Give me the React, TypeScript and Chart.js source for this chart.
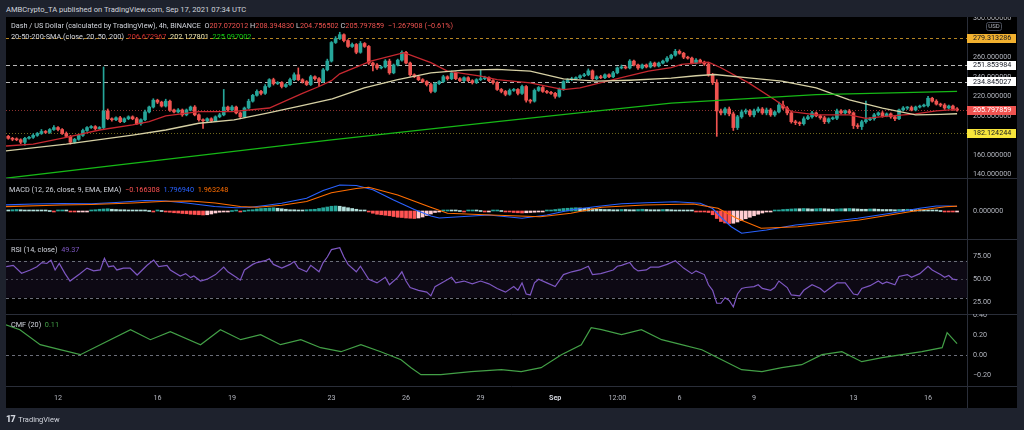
import React, { useEffect, useRef } from "react";
import { Chart, registerables } from "chart.js";

Chart.register(...registerables);

// ---------------- DATA ----------------
const FIRST_OPEN = 179;

// 4h closes, Aug 10 00:00 .. Sep 17 04:00
const closes = [
  177, 176, 175.5, 173, 177, 178, 180, 182, 184, 183,
  186, 188, 186, 182, 179, 173, 176, 180, 185, 188,
  189, 187, 188, 205, 197, 196, 198, 194, 197, 199,
  197, 192, 196, 204, 209, 216, 214, 210, 215, 206,
  204, 206, 201, 206, 209, 201, 196, 195, 197, 195,
  199, 201, 209, 206, 209, 203, 199, 208, 215, 221,
  225, 223, 230, 237, 233, 234, 230, 232, 237, 242,
  237, 235, 232, 240, 238, 235, 247, 256, 275, 279,
  283, 277, 271, 273, 265, 274, 271, 254, 252, 249,
  250, 256, 244, 252, 257, 265, 254, 242, 240, 237,
  235, 232, 225, 233, 235, 240, 238, 244, 238, 236,
  239, 236, 234, 237, 238, 239, 236, 234, 227, 225,
  222, 226, 227, 223, 230, 216, 215, 226, 229, 225,
  224, 223, 220, 227, 235, 237, 238, 239, 241, 242,
  246, 238, 240, 239, 242, 240, 244, 249, 250, 249,
  256, 252, 249, 252, 250, 254, 251, 254, 256, 259,
  262, 266, 264, 260, 259, 254, 257, 255, 253, 242,
  234, 205, 203, 207, 202, 188, 199, 204, 205, 201,
  205, 207, 203, 206, 201, 204, 211, 208, 203, 194,
  193, 192, 197, 199, 203, 200, 198, 194, 197, 197.5,
  205, 203, 205, 203, 190, 189, 194, 196, 197, 201,
  203, 200, 202, 199, 197, 206, 208, 208.5, 206, 209,
  210, 210.5, 218, 215, 212, 211, 208, 210, 207.072012, 205.797859,
];

const wickUp = [
  1, 1, 1.5, 1, 1, 1, 1.5, 1, 2, 1,
  1, 2, 1, 1, 1.5, 1, 1, 1, 1.5, 1,
  1, 1, 1, 45, 2, 1, 1, 1.5, 1, 1,
  1, 1.5, 1, 2, 1, 1.5, 1, 1, 2, 1,
  1, 1.5, 1, 1, 1, 1.5, 1, 1, 1, 1,
  1, 1.5, 18, 1, 1.5, 1, 1, 1, 2, 1,
  1.5, 1, 2, 1, 1.5, 1, 1, 1, 1.5, 2,
  7, 1, 1, 1.5, 1, 1, 1.5, 2, 1, 2,
  2.5, 1, 1, 1.5, 1, 2, 1, 1, 1, 1.5,
  1, 1.5, 2, 1, 1, 1.5, 1, 1, 1, 1,
  1, 1, 1.5, 1, 1, 1.5, 1, 2, 1, 1,
  1, 1, 1, 1, 9, 1.5, 1, 1, 1, 1,
  1, 1.5, 1, 1, 1.5, 1, 1, 1.5, 1, 1,
  1, 1, 1, 1.5, 1, 1, 1.5, 1, 1, 1.5,
  2, 1, 1, 1.5, 1, 1, 1.5, 1, 2, 1,
  1.5, 1, 1, 1, 1, 1.5, 1, 1, 1, 1.5,
  1, 2, 1.5, 1, 1, 1, 1.5, 1, 1, 1,
  1.5, 3, 2, 1.5, 2, 2, 1.5, 2, 2, 1.5,
  2, 2, 1.5, 2, 1.5, 1, 3, 4, 1.5, 2,
  1.5, 1, 2, 1.5, 1.5, 1, 1, 1.5, 1, 1.5,
  2, 1.5, 1, 1.5, 1, 2, 1.5, 19, 1.5, 1.5,
  1, 1.5, 1, 1, 1.5, 1, 1.5, 1, 1.5, 1,
  1, 1.5, 2, 1, 1.5, 1, 1.5, 1, 1, 1.32,
];

const wickDown = [
  1, 1.5, 1, 1.5, 3, 1, 1, 1, 1, 1,
  1, 1, 1.5, 1, 1, 2, 1, 1, 1, 1,
  1, 1.5, 1, 2, 1, 1.5, 1, 1, 1, 1,
  1, 1, 1.5, 1, 1, 1, 1.5, 1, 1, 1.5,
  1, 1, 1.5, 1, 1, 1, 1.5, 8, 1, 1.5,
  1, 1, 1, 1.5, 1, 1, 2, 1, 1, 1,
  1, 1.5, 1, 1, 1.5, 1, 1.5, 1, 1, 1,
  1, 1.5, 1, 1, 1.5, 5, 1, 1, 1, 1,
  1, 1.5, 1, 1, 1.5, 1, 1, 1.5, 6, 1.5,
  1, 1, 1.5, 1, 1, 1, 1, 1.5, 1, 1,
  1, 1.5, 1.5, 1, 1, 1, 1.5, 1, 1, 1,
  1, 1, 1.5, 1, 1, 1, 1, 1.5, 1, 1.5,
  1.5, 1, 1, 1.5, 1, 2, 2, 1, 1, 1,
  1, 1, 2, 1, 1, 1, 1, 1, 1, 1,
  1, 1.5, 1, 1, 1, 1, 1, 1, 1, 1,
  1, 1, 1.5, 1, 1, 1, 1, 1, 1, 1,
  1, 1, 1, 1.5, 1, 1, 1, 1, 1.5, 1.5,
  2, 26, 2, 2, 2, 3, 2, 1.5, 2, 1.5,
  2, 1.5, 1.5, 2, 1.5, 1.5, 1, 1.5, 2, 1.5,
  2, 2, 1.5, 1, 1.5, 1, 1.5, 2, 1.5, 1,
  1.5, 1, 1.5, 1, 3, 2, 3, 1.5, 1, 1.5,
  1, 1.5, 1, 1.5, 2, 1, 1, 1.5, 1, 1,
  1, 1, 1.5, 1, 1, 1.5, 1.5, 1, 1.5, 1.04,
];

// [candle index, value]
const sma20: [number, number][] = [
  [-1, 169], [6, 171], [14, 178], [22, 185.5], [30, 190.7], [34, 194], [38, 200], [46, 204.4],
  [54, 204.4], [63, 208], [71, 223], [75, 230], [78, 236], [80, 243], [87.5, 256], [95.5, 264.7],
  [102, 254.4], [106, 245.7], [114, 240.6], [118, 237], [126, 233.7], [134, 226.8], [138, 228.5],
  [146, 237], [154.5, 245.7], [160, 249.2], [162.5, 252.6], [169, 255], [172, 249.2], [178.7, 233.7],
  [185, 216.4], [189, 204.4], [195, 201], [203, 201], [207, 197.5], [211, 199.2], [219, 202],
  [224, 205], [229, 206.67],
];
const sma50: [number, number][] = [
  [-1, 164], [14, 171], [30, 180.3], [38, 185.5], [46, 192.4], [54.5, 195.8], [62.5, 202.7],
  [70.6, 210.3], [78.2, 217.3], [85.9, 228.5], [94, 237.1], [102, 244], [110, 246.8], [118, 247.5],
  [126, 245.7], [134, 237.8], [142, 235.4], [150, 236.4], [160, 238.5], [166, 241], [170.5, 242.3],
  [178.7, 238.8], [186.7, 235.4], [195, 228.5], [203, 216.4], [211, 207.8], [219, 201], [225, 201.5],
  [229, 202.13],
];
const sma200: [number, number][] = [
  [-1, 136], [36, 154.5], [78, 175.5], [118, 194], [140, 204], [160, 213], [195, 221.6], [229, 225.1],
];

const macdLine: [number, number][] = [
  [-2, 2.4], [6, 2.8], [13, 3.0], [20, 2.9], [26, 3.4], [33, 4.2], [38, 4.0], [43, 3.2], [49.8, 1.8],
  [55, 1.3], [58, 1.4], [62, 2.2], [66, 3.1], [72, 5.1], [76, 8.2], [80, 10.4], [84, 10.2], [88, 8.5],
  [93, 4.4], [98, 0.6], [102, -2.0], [104, -2.8], [109, -2.3], [116, -1.6], [124, -2.9], [130, -1.6],
  [136, 0.5], [142, 1.8], [148, 2.9], [154, 3.3], [161, 3.7], [167, 3.1], [170, 1.0], [172, -2.5],
  [174.5, -6.3], [177, -8.9], [183, -7.6], [190, -5.6], [198, -4.3], [205, -2.9], [213, -0.9],
  [220, 1.1], [224, 2.0], [227, 2.0], [229, 1.797],
];
const signalLine: [number, number][] = [
  [-2, 1.7], [12.8, 2.4], [20, 2.6], [30, 3.2], [38, 3.9], [44, 4.0], [50, 3.2], [56, 1.8], [60, 1.5],
  [66, 2.3], [72, 3.8], [78, 7.3], [84, 9.0], [87, 9.5], [94, 6.4], [101.6, 1.7], [106, -0.9],
  [116.5, -1.6], [128.4, -2.3], [135.8, -0.9], [143.2, 1.5], [153.6, 2.4], [165.4, 2.8], [171.3, 1.1],
  [175.8, -2.9], [181.7, -6.9], [190.6, -6.3], [205.4, -3.6], [212.8, -1.6], [220.2, 0.4],
  [226.2, 1.7], [229, 1.963],
];
const macdHist = [
  0.4, 0.5, 0.6, 0.5, 0.4, 0.3, 0.3, 0.2, 0.1, 0.1,
  0.0, -0.1, 0.1, 0.2, 0.1, -0.3, -0.4, -0.3, -0.2, -0.1,
  0.3, 0.5, 0.7, 0.8, 0.9, 0.7, 0.6, 0.5, 0.5, 0.4,
  0.4, 0.3, 0.2, 0.1, 0.0, -0.1, 0.1, 0.0, -0.2, -0.5,
  -0.7, -0.8, -1.0, -1.1, -1.3, -1.4, -1.5, -1.6, -1.5, -1.2,
  -0.8, -0.5, -0.2, -0.1, 0.0, 0.1, -0.1, 0.0, 0.2, 0.5,
  0.8, 1.0, 1.1, 1.2, 1.3, 1.1, 0.9, 0.7, 0.5, 0.5,
  0.4, 0.4, 0.5, 0.6, 0.7, 1.0, 1.3, 1.6, 1.9, 2.0,
  1.9, 1.6, 1.3, 1.0, 0.7, 0.4, 0.1, -0.4, -0.9, -1.3,
  -1.5, -1.7, -1.9, -2.2, -2.5, -2.6, -2.8, -2.9, -3.0, -2.8,
  -2.4, -1.8, -1.2, -0.6, -0.2, 0.2, 0.3, 0.2, 0.1, 0.0,
  -0.1, 0.1, 0.2, 0.1, 0.0, -0.2, -0.1, 0.1, 0.2, 0.0,
  -0.2, -0.4, -0.6, -0.7, -0.8, -0.7, -0.6, -0.5, -0.3, -0.1,
  0.1, 0.3, 0.6, 0.8, 1.0, 1.1, 1.2, 1.3, 1.2, 1.1,
  1.0, 0.9, 0.8, 0.7, 0.6, 0.6, 0.5, 0.5, 0.6, 0.6,
  0.5, 0.5, 0.6, 0.7, 0.6, 0.5, 0.5, 0.5, 0.6, 0.6,
  0.5, 0.4, 0.4, 0.3, 0.2, 0.1, -0.1, -0.2, -0.3, -0.6,
  -1.5, -3.0, -4.2, -4.8, -5.0, -4.9, -4.4, -3.8, -3.1, -2.5,
  -1.9, -1.3, -0.8, -0.4, -0.1, 0.2, 0.4, 0.6, 0.7, 0.8,
  0.9, 0.9, 1.0, 0.9, 0.8, 0.9, 1.0, 0.9, 0.8, 0.7,
  0.8, 0.9, 0.9, 1.0, 0.9, 0.8, 0.7, 0.7, 0.8, 0.8,
  0.7, 0.6, 0.6, 0.6, 0.5, 0.6, 0.6, 0.7, 0.6, 0.5,
  0.5, 0.4, 0.3, 0.2, 0.1, 0.0, -0.1, -0.1, -0.2, -0.166308,
];

const rsiLine: [number, number][] = [
  [-0.5, 63.5], [1.2, 65], [3.2, 56.4], [5.3, 60], [6.9, 63.5], [8.1, 68], [9.3, 67], [10.3, 70.6],
  [11.3, 60], [12.3, 67], [13.7, 56], [14.9, 48], [17.3, 56], [19, 62], [20.6, 59], [22.2, 60],
  [23.2, 72.6], [24.2, 63.5], [25.4, 64.5], [26.2, 60], [27.8, 62], [29.4, 62], [31.1, 54.5],
  [33.5, 65], [35.1, 70.6], [36.3, 63.5], [38.3, 65], [39.1, 60], [41.5, 53.5], [42.8, 56],
  [44, 51.7], [44.8, 53.5], [46.4, 48], [48, 50], [50, 55], [52, 63], [53, 58], [55, 52], [56, 49],
  [57, 60], [59, 66], [60, 68], [62, 70], [63, 72], [64, 66], [66, 62], [68, 66], [69, 69], [70, 62],
  [72, 58], [73, 65], [75, 58], [76, 68], [77, 74], [78, 82], [80, 84], [81, 74], [82, 66], [84, 58],
  [85, 64], [87, 50], [89, 46], [91, 52], [92, 44], [94, 52], [95, 58], [96, 48], [97, 41], [99, 38],
  [101, 36], [102, 32], [103, 42], [105, 47], [107, 52], [108, 46], [110, 48], [112, 45], [114, 48],
  [116, 45], [118, 40], [120, 36], [122, 42], [123, 38], [124, 46], [125, 34], [126, 33], [127, 46],
  [128, 50], [130, 46], [132, 42], [134, 55], [136, 58], [138, 60], [140, 64], [141, 55], [143, 56],
  [146, 60], [147, 64], [148, 65], [150, 68], [151, 62], [152, 59], [154, 60], [155, 63], [157, 63],
  [159, 66], [161, 70], [162, 66], [163, 62], [165, 56], [166, 59], [168, 55], [169, 44], [170, 38],
  [171, 24], [172, 24], [173, 30], [174, 27], [175, 20], [176, 34], [177, 40], [178, 41], [180, 42],
  [181, 44], [182, 40], [184, 38], [185, 41], [186, 48], [188, 41], [189, 33], [191, 32], [192, 38],
  [194, 44], [196, 40], [197, 36], [200, 46], [202, 46], [204, 34], [205, 33], [206, 40], [208, 43],
  [210, 48], [211, 45], [212, 47], [214, 44], [215, 53], [217, 55], [218, 52], [220, 56], [222, 64],
  [223, 60], [225, 55], [226, 52], [227, 54], [228, 50], [229, 49.37],
];

const cmfLine: [number, number][] = [
  [-0.6, 0.30], [2.8, 0.25], [7.7, 0.10], [12.5, 0.05], [17.4, 0.0], [22.2, 0.10], [29.5, 0.25],
  [34.3, 0.15], [39.1, 0.23], [46.4, 0.10], [51.2, 0.25], [56.1, 0.15], [60.9, 0.20], [65.7, 0.10],
  [70.6, 0.15], [75.4, 0.07], [80.3, 0.03], [85.1, 0.10], [89.9, 0.03], [94.8, -0.05], [97.2, -0.13],
  [99.6, -0.20], [104.4, -0.20], [111.7, -0.17], [119, -0.15], [123.8, -0.17], [128.6, -0.13],
  [133.5, 0.0], [138.3, 0.10], [140.7, 0.27], [143.2, 0.25], [148, 0.20], [152.8, 0.25], [157.7, 0.15],
  [162.5, 0.10], [167.4, 0.05], [172.2, -0.05], [177, -0.15], [181.9, -0.17], [186.7, -0.13],
  [191.5, -0.10], [196.4, 0.0], [201.2, 0.03], [206, -0.07], [210.9, -0.03], [215.7, 0.0],
  [220.5, 0.03], [225.4, 0.07], [226.6, 0.22], [229, 0.11],
];

const levelValues = [279.313286, 251.853984, 234.845027, 205.797859, 182.124244];
const priceTickValues = [140, 160, 180, 200, 220, 240, 260, 280, 300];
const macdTickValues = [0];
const rsiTickValues = [25, 50, 75];
const rsiBandValues = [70, 50, 30];
const cmfTickValues = [-0.2, 0, 0.2, 0.4];
const timeTickIdx = [12, 36, 54, 78, 96, 114, 132, 147, 162, 180, 204, 222];
const timeTickLabels = ["12", "16", "19", "23", "26", "29", "Sep", "12:00", "6", "9", "13", "16"];

const legendOHLC = ["207.072012", "208.394830", "204.756502", "205.797859"];
const legendChange = "\u22121.267908 (\u22120.61%)";
const legendSMA = ["206.672967", "202.127801", "225.097002"];
const legendMACD = ["\u22120.166308", "1.796940", "1.963248"];
const legendRSI = "49.37";
const legendCMF = "0.11";

// ---------------- STYLE / GEOMETRY ----------------
const FONT = "Roboto, 'Noto Sans', 'DejaVu Sans', sans-serif";
const AXIS_FONT = "7.2px Roboto, 'Noto Sans', sans-serif";
const AXIS_TEXT = "#b2b5be";
const SEP = "#2a2e39";
const FRAME_BG = "#1e222d";
const TEXT = "#d1d4dc";
const UP = "#26a69a";
const DOWN = "#ef5350";
const SMA20_C = "#c62830";
const SMA50_C = "#d6d0a4";
const SMA200_C = "#16b816";
const MACD_C = "#2962ff";
const SIGNAL_C = "#ff6d00";
const RSI_C = "#7e57c2";
const CMF_C = "#43a047";
const levelLineColors = ["rgba(242,177,47,0.75)", "rgba(215,215,215,0.85)", "rgba(215,215,215,0.85)", "rgba(239,83,80,0.6)", "rgba(247,229,59,0.45)"];
const levelDash = [[3, 3], [4, 3], [4, 3], [1, 2], [1, 2]];
const levelBoxBg = ["#f2b12f", "#ffffff", "#ffffff", "#ef5350", "#f7e53b"];
const levelBoxFg = ["#131722", "#131722", "#131722", "#ffffff", "#131722"];

const LEFT = 6;
const CANVAS_W = 1011;
const AXIS_W = 50;
const LABEL_PAD = 6;
const X_MIN = -0.555;
const X_MAX = 231.4;

const PRICE_TOP = 17, PRICE_H = 161, PRICE_MIN = 136.4, PRICE_MAX = 301.1;
const MACD_TOP = 178, MACD_H = 61, MACD_MIN = -11.2, MACD_MAX = 13.2;
const RSI_TOP = 239, RSI_H = 75, RSI_MIN = 12.38, RSI_MAX = 93.46;
const CMF_TOP = 314, CMF_AREA_H = 72, CMF_H = 94, CMF_MIN = -0.313, CMF_MAX = 0.407;

const toXY = (pts: [number, number][]) => pts.map(([x, y]) => ({ x, y }));

function baseOptions(yMin: number, yMax: number, bottomPad = 0): any {
  return {
    animation: false,
    responsive: false,
    maintainAspectRatio: false,
    events: [],
    layout: { padding: { left: 0, right: 0, top: 0, bottom: bottomPad } },
    plugins: { legend: { display: false }, tooltip: { enabled: false } },
    scales: {
      x: { type: "linear", min: X_MIN, max: X_MAX, display: false, offset: false },
      y: {
        type: "linear",
        position: "right",
        min: yMin,
        max: yMax,
        beginAtZero: false,
        grid: { display: false, drawTicks: false },
        border: { display: false },
        ticks: { display: false },
        afterFit: (s: any) => {
          s.width = AXIS_W;
        },
      },
    },
  };
}

function hLine(ctx: CanvasRenderingContext2D, a: any, y: number, color: string, dash: number[]) {
  const py = Math.round(y) + 0.5;
  ctx.save();
  ctx.strokeStyle = color;
  ctx.lineWidth = 1;
  ctx.setLineDash(dash);
  ctx.beginPath();
  ctx.moveTo(a.left, py);
  ctx.lineTo(a.right, py);
  ctx.stroke();
  ctx.restore();
}

function drawFrame(chart: any, topLine: boolean) {
  const ctx = chart.ctx as CanvasRenderingContext2D;
  const x = Math.round(chart.chartArea.right) + 0.5;
  ctx.save();
  ctx.strokeStyle = SEP;
  ctx.lineWidth = 1;
  ctx.setLineDash([]);
  ctx.beginPath();
  ctx.moveTo(x, 0);
  ctx.lineTo(x, chart.height);
  ctx.stroke();
  if (topLine) {
    ctx.beginPath();
    ctx.moveTo(0, 0.5);
    ctx.lineTo(chart.width, 0.5);
    ctx.stroke();
  }
  ctx.restore();
}

function drawAxisLabels(chart: any, values: number[], fmt: (v: number) => string) {
  const ctx = chart.ctx as CanvasRenderingContext2D;
  const y = chart.scales.y;
  ctx.save();
  ctx.font = AXIS_FONT;
  ctx.fillStyle = AXIS_TEXT;
  ctx.textAlign = "left";
  ctx.textBaseline = "middle";
  values.forEach((v) => ctx.fillText(fmt(v), chart.chartArea.right + LABEL_PAD, y.getPixelForValue(v)));
  ctx.restore();
}

const minus = (s: string) => s.replace("-", "\u2212");

// ---------------- CHART BUILDERS ----------------
function makePrice(canvas: HTMLCanvasElement) {
  const bodies: any[] = [];
  const wicks: any[] = [];
  const colors: string[] = [];
  closes.forEach((c, i) => {
    const o = i === 0 ? FIRST_OPEN : closes[i - 1];
    bodies.push({ x: i, y: [Math.min(o, c), Math.max(o, c)] });
    wicks.push({ x: i, y: [Math.min(o, c) - wickDown[i], Math.max(o, c) + wickUp[i]] });
    colors.push(c >= o ? UP : DOWN);
  });

  const plugin = {
    id: "pricePane",
    beforeDatasetsDraw(chart: any) {
      const y = chart.scales.y;
      levelValues.forEach((v, k) => hLine(chart.ctx, chart.chartArea, y.getPixelForValue(v), levelLineColors[k], levelDash[k]));
    },
    afterDraw(chart: any) {
      const ctx = chart.ctx as CanvasRenderingContext2D;
      const y = chart.scales.y;
      const right = chart.chartArea.right;
      drawFrame(chart, false);
      drawAxisLabels(chart, priceTickValues, (v) => v.toFixed(6));
      ctx.save();
      // USD unit badge
      ctx.strokeStyle = "#4a4e5a";
      ctx.lineWidth = 1;
      ctx.beginPath();
      (ctx as any).roundRect(right + 19.5, 5.5, 15, 8, 2);
      ctx.stroke();
      ctx.font = "6px Roboto, sans-serif";
      ctx.fillStyle = AXIS_TEXT;
      ctx.textAlign = "center";
      ctx.textBaseline = "middle";
      ctx.fillText("USD", right + 27, 9.8);
      // price level boxes
      ctx.font = AXIS_FONT;
      ctx.textAlign = "left";
      levelValues.forEach((v, k) => {
        const py = y.getPixelForValue(v);
        ctx.fillStyle = levelBoxBg[k];
        ctx.fillRect(right, Math.round(py - 4.5), AXIS_W - 1, 9);
        ctx.fillStyle = levelBoxFg[k];
        ctx.fillText(v.toFixed(6), right + LABEL_PAD, py + 0.3);
      });
      ctx.restore();
    },
  };

  return new Chart(canvas, {
    type: "bar",
    data: {
      datasets: [
        { type: "line", data: toXY(sma200), borderColor: SMA200_C, borderWidth: 1.3, pointRadius: 0, order: 1 } as any,
        { type: "line", data: toXY(sma50), borderColor: SMA50_C, borderWidth: 1.3, pointRadius: 0, order: 1 } as any,
        { type: "line", data: toXY(sma20), borderColor: SMA20_C, borderWidth: 1.3, pointRadius: 0, order: 1 } as any,
        { type: "bar", data: bodies, backgroundColor: colors, barThickness: 3, grouped: false, minBarLength: 1, borderWidth: 0, order: 2 } as any,
        { type: "bar", data: wicks, backgroundColor: colors, barThickness: 1, grouped: false, borderWidth: 0, order: 3 } as any,
      ],
    },
    options: baseOptions(PRICE_MIN, PRICE_MAX),
    plugins: [plugin],
  } as any);
}

function makeMacd(canvas: HTMLCanvasElement) {
  const histColors = macdHist.map((h, i) => {
    const p = i > 0 ? macdHist[i - 1] : h;
    return h >= 0 ? (p < h ? "#26a69a" : "#b2dfdb") : p < h ? "#ffcdd2" : "#ff5252";
  });
  const plugin = {
    id: "macdPane",
    afterDraw(chart: any) {
      drawFrame(chart, true);
      drawAxisLabels(chart, macdTickValues, (v) => v.toFixed(6));
    },
  };
  return new Chart(canvas, {
    type: "bar",
    data: {
      datasets: [
        { type: "line", data: toXY(signalLine), borderColor: SIGNAL_C, borderWidth: 1.2, pointRadius: 0, order: 0 } as any,
        { type: "line", data: toXY(macdLine), borderColor: MACD_C, borderWidth: 1.2, pointRadius: 0, order: 1 } as any,
        { type: "bar", data: macdHist.map((h, i) => ({ x: i, y: h })), backgroundColor: histColors, barThickness: 3, grouped: false, minBarLength: 1, borderWidth: 0, order: 2 } as any,
      ],
    },
    options: baseOptions(MACD_MIN, MACD_MAX),
    plugins: [plugin],
  } as any);
}

function makeRsi(canvas: HTMLCanvasElement) {
  const plugin = {
    id: "rsiPane",
    beforeDatasetsDraw(chart: any) {
      const ctx = chart.ctx as CanvasRenderingContext2D;
      const a = chart.chartArea;
      const y = chart.scales.y;
      const top = y.getPixelForValue(rsiBandValues[0]);
      const bot = y.getPixelForValue(rsiBandValues[2]);
      ctx.save();
      ctx.fillStyle = "rgba(126,87,194,0.1)";
      ctx.fillRect(a.left, top, a.right - a.left, bot - top);
      ctx.restore();
      hLine(ctx, a, top, "#6b6e79", [3, 3]);
      hLine(ctx, a, y.getPixelForValue(rsiBandValues[1]), "rgba(120,123,134,0.55)", [2, 3]);
      hLine(ctx, a, bot, "#6b6e79", [3, 3]);
    },
    afterDraw(chart: any) {
      drawFrame(chart, true);
      drawAxisLabels(chart, rsiTickValues, (v) => v.toFixed(2));
    },
  };
  return new Chart(canvas, {
    type: "line",
    data: {
      datasets: [{ data: toXY(rsiLine), borderColor: RSI_C, borderWidth: 1.2, pointRadius: 0 } as any],
    },
    options: baseOptions(RSI_MIN, RSI_MAX),
    plugins: [plugin],
  } as any);
}

function makeCmf(canvas: HTMLCanvasElement) {
  const plugin = {
    id: "cmfPane",
    beforeDatasetsDraw(chart: any) {
      hLine(chart.ctx, chart.chartArea, chart.scales.y.getPixelForValue(0), "#6b6e79", [3, 3]);
    },
    afterDraw(chart: any) {
      const ctx = chart.ctx as CanvasRenderingContext2D;
      const a = chart.chartArea;
      const x = chart.scales.x;
      drawFrame(chart, true);
      drawAxisLabels(chart, cmfTickValues, (v) => minus(v.toFixed(2)));
      // time axis
      ctx.save();
      ctx.strokeStyle = SEP;
      ctx.lineWidth = 1;
      ctx.beginPath();
      ctx.moveTo(0, Math.round(a.bottom) + 0.5);
      ctx.lineTo(chart.width, Math.round(a.bottom) + 0.5);
      ctx.stroke();
      ctx.fillStyle = AXIS_TEXT;
      ctx.textAlign = "center";
      ctx.textBaseline = "middle";
      timeTickIdx.forEach((idx, k) => {
        const lbl = timeTickLabels[k];
        ctx.font = lbl === "Sep" ? "bold 7.2px Roboto, sans-serif" : AXIS_FONT;
        ctx.fillStyle = lbl === "Sep" ? "#d1d4dc" : AXIS_TEXT;
        ctx.fillText(lbl, x.getPixelForValue(idx), a.bottom + 12);
      });
      ctx.restore();
    },
  };
  return new Chart(canvas, {
    type: "line",
    data: {
      datasets: [{ data: toXY(cmfLine), borderColor: CMF_C, borderWidth: 1.2, pointRadius: 0 } as any],
    },
    options: baseOptions(CMF_MIN, CMF_MAX, CMF_H - CMF_AREA_H),
    plugins: [plugin],
  } as any);
}

// ---------------- COMPONENTS ----------------
function Pane({ top, height, make }: { top: number; height: number; make: (c: HTMLCanvasElement) => Chart }) {
  const ref = useRef<HTMLCanvasElement>(null);
  useEffect(() => {
    if (!ref.current) return;
    const chart = make(ref.current);
    return () => chart.destroy();
  }, []);
  return (
    <canvas
      ref={ref}
      width={CANVAS_W}
      height={height}
      style={{ position: "absolute", left: LEFT, top, width: CANVAS_W, height, display: "block" }}
    />
  );
}

const legendBox = (top: number): React.CSSProperties => ({
  position: "absolute",
  left: 11,
  top,
  fontSize: 7.3,
  lineHeight: "10px",
  color: TEXT,
  whiteSpace: "pre",
  fontFamily: FONT,
});

export default function App() {
  return (
    <div
      style={{
        position: "fixed",
        left: 0,
        top: 0,
        width: 1024,
        height: 430,
        background: FRAME_BG,
        overflow: "hidden",
        fontFamily: FONT,
      }}
    >
      <div style={{ position: "absolute", left: 6, top: 4, fontSize: 7.6, lineHeight: "11px", color: TEXT, whiteSpace: "nowrap" }}>
        AMBCrypto_TA published on TradingView.com, Sep 17, 2021 07:34 UTC
      </div>
      <div style={{ position: "absolute", left: LEFT, top: 17, width: CANVAS_W, height: 391, background: "#000" }} />

      <Pane top={PRICE_TOP} height={PRICE_H} make={makePrice} />
      <Pane top={MACD_TOP} height={MACD_H} make={makeMacd} />
      <Pane top={RSI_TOP} height={RSI_H} make={makeRsi} />
      <Pane top={CMF_TOP} height={CMF_H} make={makeCmf} />

      <div style={legendBox(21)}>
        {"Dash / US Dollar (calculated by TradingView), 4h, BINANCE  O"}
        <span style={{ color: DOWN }}>{legendOHLC[0]}</span>
        {" H"}
        <span style={{ color: DOWN }}>{legendOHLC[1]}</span>
        {" L"}
        <span style={{ color: DOWN }}>{legendOHLC[2]}</span>
        {" C"}
        <span style={{ color: DOWN }}>{legendOHLC[3]}</span>
        {"  "}
        <span style={{ color: DOWN }}>{legendChange}</span>
      </div>
      <div style={legendBox(32)}>
        {"20-50-200-SMA (close, 20, 50, 200)  "}
        <span style={{ color: "#d32f2f" }}>{legendSMA[0]}</span>
        {"  "}
        <span style={{ color: "#efe7b0" }}>{legendSMA[1]}</span>
        {"  "}
        <span style={{ color: "#12d012" }}>{legendSMA[2]}</span>
      </div>
      <div style={{ ...legendBox(185), left: 9 }}>
        {"MACD (12, 26, close, 9, EMA, EMA)  "}
        <span style={{ color: "#ff5252" }}>{legendMACD[0]}</span>
        {"  "}
        <span style={{ color: MACD_C }}>{legendMACD[1]}</span>
        {"  "}
        <span style={{ color: SIGNAL_C }}>{legendMACD[2]}</span>
      </div>
      <div style={legendBox(245)}>
        {"RSI (14, close)  "}
        <span style={{ color: RSI_C }}>{legendRSI}</span>
      </div>
      <div style={legendBox(320)}>
        {"CMF (20)  "}
        <span style={{ color: CMF_C }}>{legendCMF}</span>
      </div>

      <div
        style={{
          position: "absolute",
          left: 6,
          top: 412,
          height: 14,
          display: "flex",
          alignItems: "center",
          color: TEXT,
          fontSize: 7.5,
          whiteSpace: "nowrap",
        }}
      >
        <span style={{ fontWeight: 900, fontSize: 9, letterSpacing: -0.6, marginRight: 3 }}>17</span>
        TradingView
      </div>
    </div>
  );
}
